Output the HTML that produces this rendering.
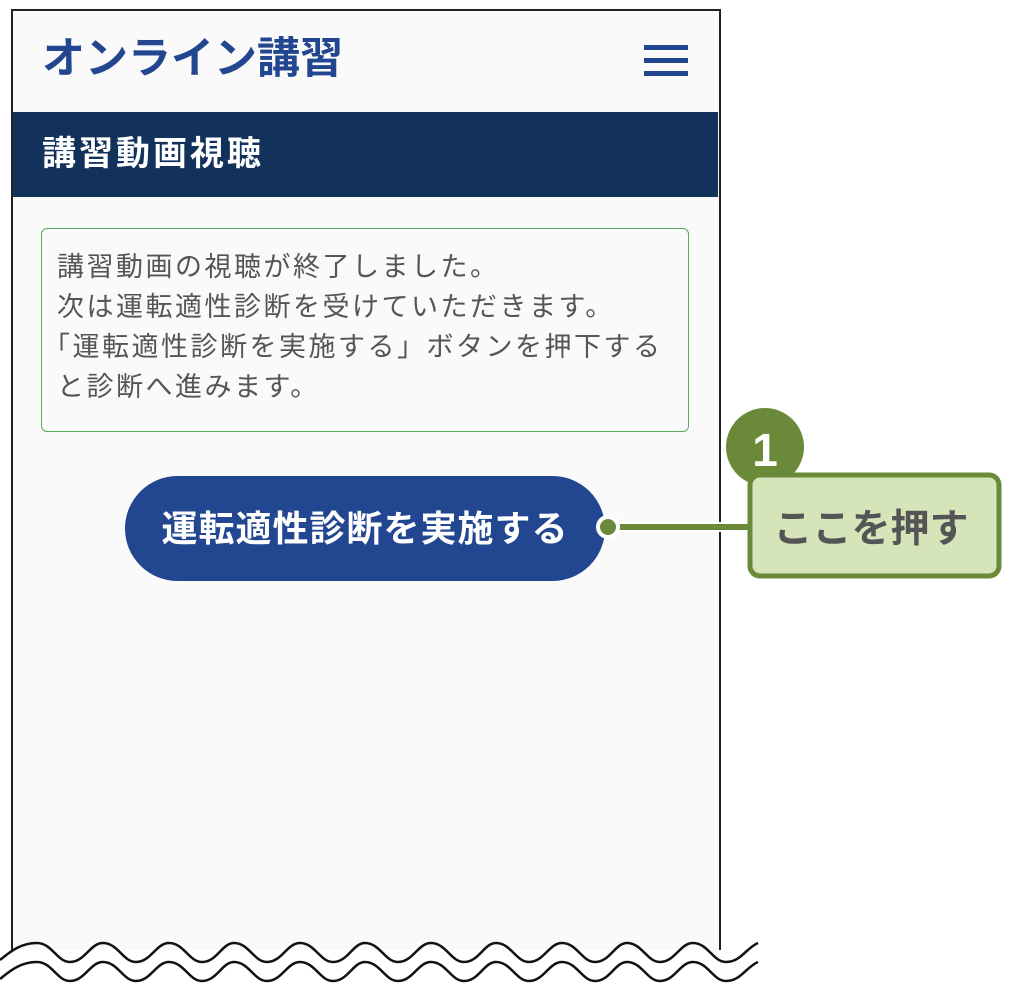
<!DOCTYPE html>
<html><head><meta charset="utf-8">
<style>
body{margin:0;width:1024px;height:996px;background:#fff;position:relative;overflow:hidden;font-family:"Liberation Sans","Noto Sans CJK JP",sans-serif;}
.abs{position:absolute;}
</style></head><body>
<div class="abs" style="left:11px;top:9px;width:706px;height:960px;background:#fafafa;border-left:2px solid #222;border-right:2px solid #222;border-top:2px solid #222;"></div>
<div class="abs" style="left:42px;top:29px;font-size:43px;font-weight:bold;color:#22468f;white-space:nowrap;line-height:60px;">オンライン講習</div>
<div class="abs" style="left:644px;top:45px;width:44px;height:5px;background:#22468f;"></div>
<div class="abs" style="left:644px;top:58px;width:44px;height:5px;background:#22468f;"></div>
<div class="abs" style="left:644px;top:71px;width:44px;height:5px;background:#22468f;"></div>
<div class="abs" style="left:13px;top:112px;width:705px;height:85px;background:#12325c;"></div>
<div class="abs" style="left:42px;top:126px;font-size:34px;letter-spacing:3px;font-weight:bold;color:#fff;line-height:56px;white-space:nowrap;">講習動画視聴</div>
<div class="abs" style="left:41px;top:228px;width:646px;height:202px;border:1.5px solid #5aaa5e;border-radius:6px;background:#fafafa;"></div>
<div class="abs" style="left:57px;top:247px;font-size:27px;color:#555;line-height:40px;white-space:nowrap;letter-spacing:2.5px;">
<div>講習動画の視聴が終了しました。</div>
<div>次は運転適性診断を受けていただきます。</div>
<div style="margin-left:-14px;">「運転適性診断を実施する」ボタンを押下する</div>
<div>と診断へ進みます。</div>
</div>
<div class="abs" style="left:125px;top:476px;width:480px;height:105px;border-radius:53px;background:#22468f;color:#fff;font-size:36px;letter-spacing:1px;font-weight:bold;text-align:center;line-height:105px;white-space:nowrap;">運転適性診断を実施する</div>
<svg class="abs" style="left:0;top:0" width="1024" height="996">
<line x1="608" y1="527" x2="752" y2="527" stroke="#fff" stroke-width="10"/>
<line x1="608" y1="527" x2="752" y2="527" stroke="#6a8a3a" stroke-width="6"/>
<circle cx="608" cy="527" r="12" fill="#fff"/>
<circle cx="608" cy="527" r="8" fill="#6a8a3a"/>
<circle cx="765" cy="447" r="39" fill="#6a8a3a"/>
<rect x="750" y="475" width="249" height="101" rx="10" fill="#d5e5b9" stroke="#6a8a3a" stroke-width="5"/>
<text x="765" y="466" font-size="46" font-weight="bold" fill="#fff" text-anchor="middle" font-family="Liberation Sans, sans-serif">1</text>
<text x="871" y="542" font-size="39" font-weight="bold" fill="#555" text-anchor="middle" font-family="Liberation Sans, Noto Sans CJK JP, sans-serif">ここを押す</text>
<rect x="0" y="950" width="1024" height="46" fill="#fff"/>
</svg>
<svg class="abs" style="left:0;top:0" width="1024" height="996">
<defs>
<path id="wave" d="M0 960 C 12 950, 22 943, 37 943 C 52 943, 57 962, 70 962 C 85 962, 90 943, 103 943 C 118 943, 123 962, 136 962 C 151 962, 156 943, 169 943 C 184 943, 189 962, 202 962 C 217 962, 222 943, 234 943 C 249 943, 254 962, 267 962 C 282 962, 287 943, 300 943 C 315 943, 320 962, 333 962 C 348 962, 353 943, 365 943 C 380 943, 385 962, 398 962 C 413 962, 418 943, 431 943 C 446 943, 451 962, 464 962 C 479 962, 484 943, 496 943 C 511 943, 516 962, 529 962 C 544 962, 549 943, 562 943 C 577 943, 582 962, 595 962 C 610 962, 615 943, 627 943 C 642 943, 647 962, 660 962 C 675 962, 680 943, 693 943 C 708 943, 713 962, 726 962 C 741 962, 746 948, 758 943"/>
</defs>
<use href="#wave" fill="none" stroke="#111" stroke-width="2.5"/>
<use href="#wave" transform="translate(0,19)" fill="none" stroke="#111" stroke-width="2.5"/>
</svg>
</body></html>
